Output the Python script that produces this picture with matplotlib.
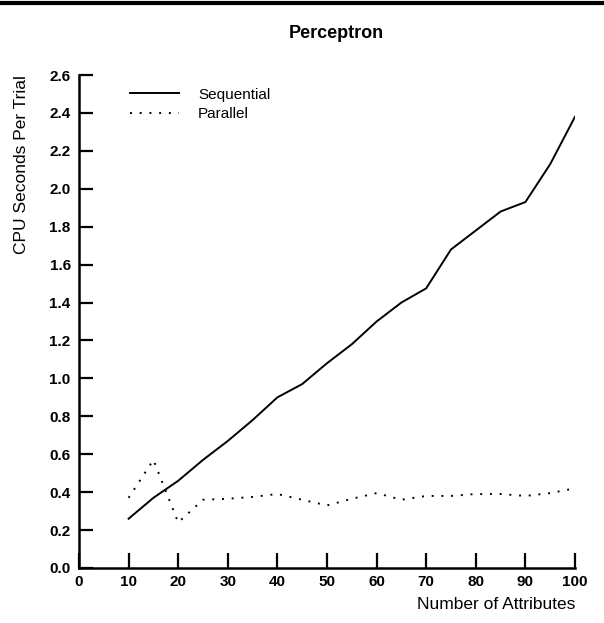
import matplotlib
matplotlib.use("Agg")
import matplotlib.pyplot as plt
from matplotlib.lines import Line2D

attributes = [10, 15, 20, 25, 30, 35, 40, 45, 50, 55, 60, 65, 70, 75, 80, 85, 90, 95, 100]
sequential = [0.26, 0.37, 0.46, 0.57, 0.67, 0.78, 0.90, 0.97, 1.08, 1.18, 1.30, 1.40, 1.475,
              1.68, 1.78, 1.88, 1.93, 2.13, 2.38]
parallel = [0.37, 0.57, 0.24, 0.36, 0.365, 0.375, 0.39, 0.36, 0.33, 0.365, 0.395, 0.36, 0.38,
            0.38, 0.39, 0.39, 0.38, 0.395, 0.42]
xticks = [0, 10, 20, 30, 40, 50, 60, 70, 80, 90, 100]
yticks = [0.0, 0.2, 0.4, 0.6, 0.8, 1.0, 1.2, 1.4, 1.6, 1.8, 2.0, 2.2, 2.4, 2.6]

plt.rcParams['font.family'] = ['Liberation Sans', 'DejaVu Sans']

fig = plt.figure(figsize=(6.04, 6.23), dpi=100)
ax = fig.add_axes([0.1308, 0.0883, 0.8212, 0.7913])

ax.plot(attributes, sequential, color='black', lw=1.4, label='Sequential')
ax.plot(attributes, parallel, color='black', lw=1.4, linestyle=(0, (1, 4)), label='Parallel')

ax.set_xlim(0, 100)
ax.set_ylim(0, 2.6)
ax.set_xticks(xticks)
ax.set_yticks(yticks)
ax.set_yticklabels([f"{v:.1f}" for v in yticks])
for s in ['top', 'right']:
    ax.spines[s].set_visible(False)
for s in ['left', 'bottom']:
    ax.spines[s].set_linewidth(1.8)
ax.tick_params(axis='both', direction='in', length=11, width=1.6, labelsize=11, pad=5)
ax.tick_params(axis='y', length=10, pad=6)
for lab in ax.get_xticklabels() + ax.get_yticklabels():
    lab.set_fontweight('bold')

ax.set_ylabel('CPU Seconds Per Trial', fontsize=12.5, loc='top')
ax.yaxis.set_label_coords(-0.100, 1.0)
fig.text(0.952, 0.017, 'Number of Attributes', ha='right', va='bottom', fontsize=12.5)
fig.text(0.556, 0.947, 'Perceptron', ha='center', va='center', fontsize=13, fontweight='bold')

leg = ax.legend(loc='upper left', bbox_to_anchor=(0.075, 1.002), frameon=False, fontsize=11,
                handlelength=3.2, handletextpad=1.25, labelspacing=0.35)

fig.add_artist(Line2D([0, 1], [0.995, 0.995], transform=fig.transFigure, color='black', lw=3))

fig.savefig('out.png', dpi=100)
